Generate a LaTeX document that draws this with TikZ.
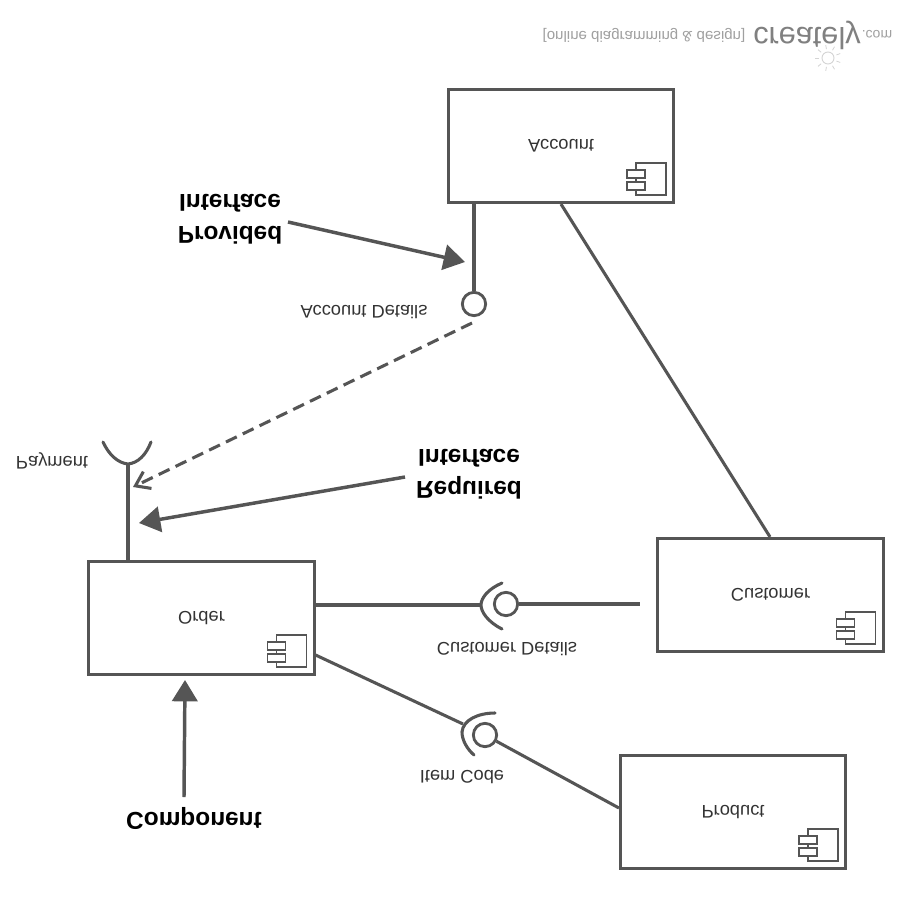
\documentclass[tikz,border=0pt]{standalone}
\usepackage{fontspec}
\setmainfont{Liberation Sans}
\usetikzlibrary{arrows.meta}
\definecolor{ink}{HTML}{555555}
\definecolor{txt}{HTML}{333333}
\definecolor{wm}{HTML}{A0A0A0}
\newcommand{\fliptxt}[1]{\scalebox{1}[-1]{#1}}
\tikzset{
  x=.75pt,y=-.75pt,
  compbox/.style={draw=ink,line width=2.1pt,fill=white,minimum width=169pt,minimum height=85pt,inner sep=0pt,text=txt,font=\fontsize{13.7}{16}\selectfont},
  flip/.style={yscale=-1,transform shape,inner sep=0pt},
  lab/.style={flip,text=txt,font=\fontsize{13.7}{16}\selectfont},
  biglab/.style={flip,text=black,align=center,font=\fontsize{18.3}{24}\selectfont\bfseries},
  wmlab/.style={flip,text=wm},
  ball/.style={circle,draw=ink,line width=2.1pt,minimum size=17.5pt,inner sep=0pt,fill=white},
  wire/.style={draw=ink,line width=2.3pt},
  call/.style={draw=ink,line width=2.6pt,-{Triangle[length=16pt,width=19pt]}},
  compicon/.pic={
    \draw[ink,line width=1.2pt] (-39,-41) rectangle (-9,-9);
    \draw[ink,line width=1.2pt,fill=white] (-48,-34) rectangle (-30,-26);
    \draw[ink,line width=1.2pt,fill=white] (-48,-22) rectangle (-30,-14);
  }
}
\begin{document}
\begin{tikzpicture}
\useasboundingbox[fill=white] (0,0) rectangle (900,900);
% boxes
\node[compbox] (acc) at (561,146) {\fliptxt{Account}};
\node[compbox] (cus) at (770.5,595) {\fliptxt{Customer}};
\node[compbox] (ord) at (201.5,618) {\fliptxt{Order}};
\node[compbox] (pro) at (733,812) {\fliptxt{Product}};
\pic at (acc.south east) {compicon};
\pic at (cus.south east) {compicon};
\pic at (ord.south east) {compicon};
\pic at (pro.south east) {compicon};
% interface ends
\node[ball] (accball) at (474,304) {};
\node[ball] (cusball) at (506,604) {};
\node[ball] (itemball) at (485,735) {};
\coordinate (cusend) at (640,604);
\coordinate (cussock) at (481,605);
\coordinate (itemsock) at (463,724);
\coordinate (paysock) at (128,464);
\coordinate (dashfrom) at (472,323);
\coordinate (dashto) at (133,487);
\coordinate (provfrom) at (288,222);
\coordinate (provto) at (465,262);
\coordinate (reqfrom) at (405,477);
\coordinate (reqto) at (139,523);
\coordinate (compfrom) at (184,797);
\coordinate (compto) at (185,680);
% connectors
\draw[wire] (acc.south west -| accball) -- (accball);
\draw[wire] (acc.south west -| 561,0) -- (cus.north west -| 770,0);
\draw[wire] (ord.east |- cussock) -- (cussock);
\draw[wire] (cusball) -- (cusend);
\draw[wire] (ord.south east |- 0,655) -- (itemsock);
\draw[wire] (itemball) -- (pro.west |- 0,808);
\draw[wire] (ord.north west -| paysock) -- (paysock);
% sockets
\draw[wire,line cap=round] (502,583) .. controls (488,589) and (481,598) .. (cussock) .. controls (481,612) and (488,622) .. (502,629);
\draw[wire,line cap=round] (495,713) .. controls (478,713) and (463,720) .. (462,732) .. controls (462,740) and (467,749) .. (474,755);
\draw[wire,line cap=round] (103,442) .. controls (109,455) and (118,463) .. (paysock) .. controls (138,463) and (146,455) .. (151,442);
% realisation and callouts
\draw[wire,dashed,dash pattern=on 9pt off 5pt,-{Straight Barb[length=10pt,width=14pt]}] (dashfrom) -- (dashto);
\draw[call] (provfrom) -- (provto);
\draw[call] (reqfrom) -- (reqto);
\draw[call] (compfrom) -- (compto);
% labels
\node[lab] (lacc) at (364,312) {Account Details};
\node[lab] (lpay) at (52,461) {Payment};
\node[lab] (lcus) at (507,649) {Customer Details};
\node[lab] (lite) at (462,777) {Item Code};
\node[biglab] (lprov) at (230,219) {Provided\\Interface};
\node[biglab] (lreq) at (469,474) {Required\\Interface};
\node[biglab] (lcomp) at (194,818) {Component};
% watermark
\node[wmlab,font=\fontsize{11.3}{12}\selectfont] (wm1) at (644,35) {[online diagramming \& design]};
\node[wmlab,font=\fontsize{23}{24}\selectfont,text=gray] (wm2) at (807,35) {creately};
\node[wmlab,font=\fontsize{10.5}{12}\selectfont] (wm3) at (877,34) {.com};
\draw[wm!45,line width=.7pt] (828,58) circle (6);
\foreach \a in {20,60,...,340} \draw[wm!45,line width=.6pt] (828,58) ++(\a:9) -- ++(\a:4);
\end{tikzpicture}
\end{document}
